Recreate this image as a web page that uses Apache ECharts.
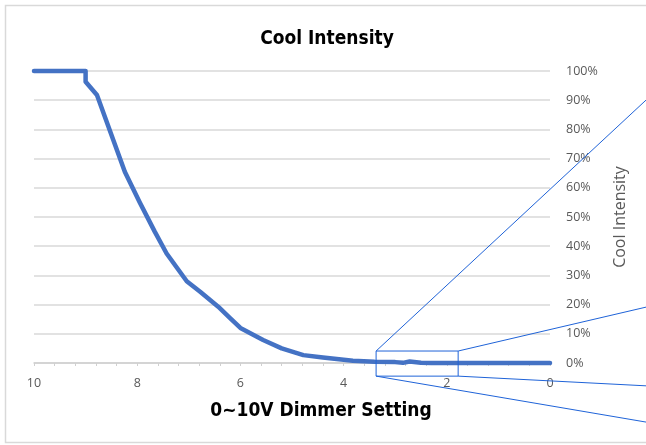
<!DOCTYPE html>
<html>
<head>
<meta charset="utf-8">
<script src="https://cdn.jsdelivr.net/npm/echarts@6/dist/echarts.min.js"></script>
<style>
html,body{margin:0;padding:0;background:#fff;}
#main{width:646px;height:445px;}
</style>
</head>
<body>
<div id="main"></div>
<script>
// Data
const dimmerV = [10, 9, 9, 8.78, 8.24, 7.95, 7.66, 7.43, 7.04, 6.78, 6.43, 6.2, 6.0, 5.56, 5.2, 4.78, 4.4, 3.82, 3.4, 3.0, 2.85, 2.72, 2.5, 2.3, 2.0, 0];
const intensity = [100, 100, 96.3, 91.8, 65.5, 55, 45, 37.5, 28, 24.4, 19.3, 15.4, 12, 7.9, 5.0, 2.7, 1.9, 0.8, 0.4, 0.3, 0.05, 0.5, 0.1, 0, 0, 0];
const xTicks = [0, 2, 4, 6, 8, 10];
const yTicks = [0, 10, 20, 30, 40, 50, 60, 70, 80, 90, 100];
// Zoom-box annotation (data units) and leader-line ends (data units, outside plot)
const zoomBox = { xA: 3.37, xB: 1.78, yLow: -4.5, yHigh: 4.1 };
const leaderEnds = { x: -1.95, tl: 91.5, tr: 19.5, br: -7.9, bl: -20.5 };

const chart = echarts.init(document.getElementById('main'), null, { renderer: 'canvas' });
const grey = '#595959';
const boldFont = '"Liberation Sans Narrow", "DejaVu Sans Condensed", sans-serif';
const option = {
  backgroundColor: '#fff',
  animation: false,
  title: {
    text: 'Cool Intensity',
    left: 322, top: 25, textAlign: 'center',
    textStyle: { fontFamily: boldFont, fontWeight: 'bold', fontSize: 19, color: '#000' }
  },
  grid: { left: 34, right: 96, top: 71, bottom: 82 },
  xAxis: {
    type: 'value', inverse: true,
    min: xTicks[0], max: xTicks[xTicks.length - 1], interval: 2,
    name: '0~10V Dimmer Setting', nameLocation: 'middle', nameGap: 39,
    nameTextStyle: { fontFamily: boldFont, fontWeight: 'bold', fontSize: 19, color: '#000', padding: [0, 0, 0, 58] },
    axisLine: { show: true, lineStyle: { color: '#d0d0d0', width: 1.5 } },
    axisTick: { show: true, length: 3, lineStyle: { color: '#d0d0d0' } },
    minorTick: { show: true, splitNumber: 5, length: 3, lineStyle: { color: '#d0d0d0' } },
    splitLine: { show: false },
    axisLabel: { margin: 14, color: grey, fontFamily: '"Open Sans", sans-serif', fontSize: 12.5 }
  },
  yAxis: {
    type: 'value', position: 'right',
    min: yTicks[0], max: yTicks[yTicks.length - 1], interval: 10,
    name: 'Cool Intensity', nameLocation: 'middle', nameRotate: 90, nameGap: 62,
    nameTextStyle: { color: grey, fontFamily: '"Open Sans", sans-serif', fontSize: 16 },
    axisLine: { show: false }, axisTick: { show: false },
    splitLine: { lineStyle: { color: '#d9d9d9', width: 1.5 } },
    axisLabel: { margin: 16, color: grey, fontFamily: '"Open Sans", sans-serif', fontSize: 12.5, formatter: v => v + '%' }
  },
  series: [{
    type: 'line',
    data: dimmerV.map((x, i) => [x, intensity[i]]),
    showSymbol: false,
    clip: false,
    lineStyle: { color: '#4472C4', width: 4.5, cap: 'round', join: 'round' }
  }]
};
chart.setOption(option);

const px = (x, y) => chart.convertToPixel({ xAxisIndex: 0, yAxisIndex: 0 }, [x, y]);
const tl = px(zoomBox.xA, zoomBox.yHigh), tr = px(zoomBox.xB, zoomBox.yHigh);
const bl = px(zoomBox.xA, zoomBox.yLow), br = px(zoomBox.xB, zoomBox.yLow);
const eTL = px(leaderEnds.x, leaderEnds.tl), eTR = px(leaderEnds.x, leaderEnds.tr);
const eBR = px(leaderEnds.x, leaderEnds.br), eBL = px(leaderEnds.x, leaderEnds.bl);
const blue = { stroke: '#1f63d8', lineWidth: 1, fill: null };
chart.setOption({
  graphic: [
    { type: 'rect', z: -10, silent: true, shape: { x: 5.5, y: 5.5, width: 700, height: 437 }, style: { stroke: '#d9d9d9', lineWidth: 1.5, fill: null } },
    { type: 'rect', z: 100, silent: true, shape: { x: tl[0], y: tl[1], width: tr[0] - tl[0], height: bl[1] - tl[1] }, style: blue },
    { type: 'line', z: 100, silent: true, shape: { x1: tl[0], y1: tl[1], x2: eTL[0], y2: eTL[1] }, style: blue },
    { type: 'line', z: 100, silent: true, shape: { x1: tr[0], y1: tr[1], x2: eTR[0], y2: eTR[1] }, style: blue },
    { type: 'line', z: 100, silent: true, shape: { x1: br[0], y1: br[1], x2: eBR[0], y2: eBR[1] }, style: blue },
    { type: 'line', z: 100, silent: true, shape: { x1: bl[0], y1: bl[1], x2: eBL[0], y2: eBL[1] }, style: blue }
  ]
});
</script>
</body>
</html>
